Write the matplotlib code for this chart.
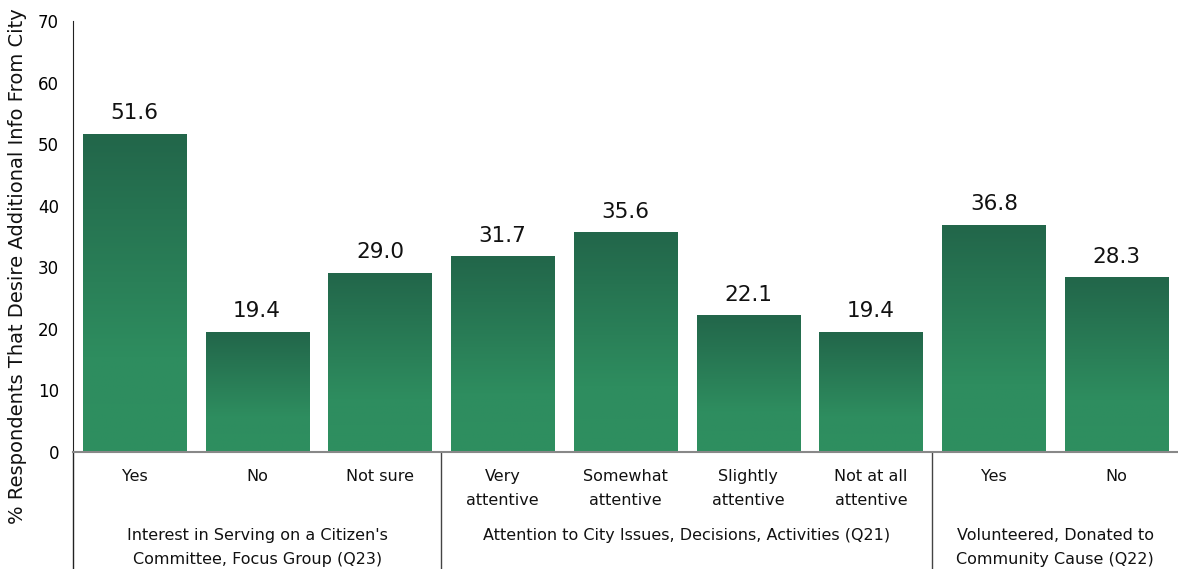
import matplotlib.pyplot as plt
import numpy as np
from matplotlib.colors import LinearSegmentedColormap

plt.rcParams['font.family'] = ['DejaVu Sans']

categories = ['Yes', 'No', 'Not sure',
              'Very\nattentive', 'Somewhat\nattentive', 'Slightly\nattentive', 'Not at all\nattentive',
              'Yes', 'No']
values = [51.6, 19.4, 29.0, 31.7, 35.6, 22.1, 19.4, 36.8, 28.3]
groups = ["Interest in Serving on a Citizen's\nCommittee, Focus Group (Q23)",
          'Attention to City Issues, Decisions, Activities (Q21)',
          'Volunteered, Donated to\nCommunity Cause (Q22)']
group_sizes = [3, 4, 2]

W, H = 1178, 569
fig = plt.figure(figsize=(W / 100, H / 100), dpi=100)
ax = fig.add_axes([73 / W, (H - 452) / H, (W - 73) / W, 431 / H])

# bottom -> top: light green up to ~30% then darkening to the top
cmap = LinearSegmentedColormap.from_list(
    'g', [(0.0, '#2e8f60'), (0.3, '#2e8d5f'), (1.0, '#22664a')])
grad = np.linspace(0, 1, 256).reshape(-1, 1)

bw = 0.84
x = np.arange(len(values)) + 0.5
for xi, v in zip(x, values):
    ax.imshow(grad, cmap=cmap, origin='lower', aspect='auto',
              extent=(xi - bw / 2, xi + bw / 2, 0, v), zorder=2)
    ax.annotate(f'{v:.1f}', (xi, v), xytext=(0, 8), textcoords='offset points',
                ha='center', va='bottom', fontsize=15.5, color='#111111')

ax.set_xlim(0, len(values))
ax.set_ylim(0, 70)
ax.set_yticks(range(0, 71, 10))
ax.tick_params(axis='y', length=0, labelsize=12, pad=10)
ax.set_xticks([])
for s in ['top', 'right']:
    ax.spines[s].set_visible(False)
ax.spines['left'].set_color('#222222')
ax.spines['bottom'].set_color('#888888')
ax.spines['bottom'].set_linewidth(1.5)

# category labels
for xi, c in zip(x, categories):
    ax.text(xi, -2.8, c, ha='center', va='top', fontsize=11.5, color='#111111',
            linespacing=1.7)

# group labels and separators
start = 0
ax.plot([0, 0], [0, -19], color='#222222', lw=1, clip_on=False)
for g, n in zip(groups, group_sizes):
    mid = start + n / 2
    ax.text(mid, -12.4, g, ha='center', va='top', fontsize=11.5, color='#111111',
            linespacing=1.7)
    start += n
    if start < len(values):
        ax.plot([start, start], [0, -19], color='#444444', lw=1, clip_on=False)

fig.text(18 / W, 1 - 266 / H, '% Respondents That Desire Additional Info From City',
         rotation=90, ha='center', va='center', fontsize=14, color='#111111')

fig.savefig('out.png', dpi=100)
